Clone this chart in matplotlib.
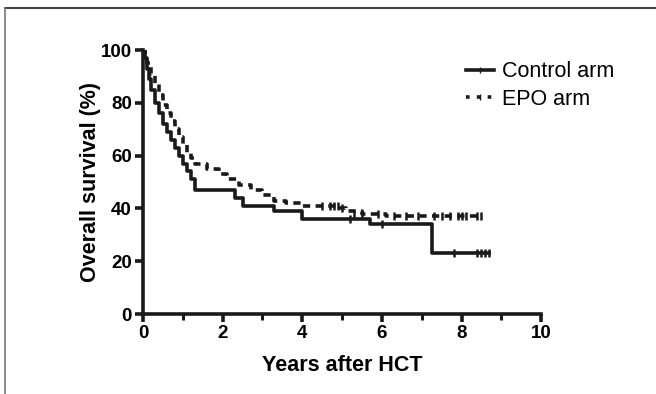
import numpy as np
import matplotlib.pyplot as plt
from matplotlib.lines import Line2D

plt.rcParams['font.family'] = ['Liberation Sans', 'DejaVu Sans']
plt.rcParams['font.weight'] = 'bold'

# Kaplan-Meier step points (years, % surviving)
control_t = [0, 0.05, 0.1, 0.15, 0.2, 0.3, 0.4, 0.5, 0.6, 0.7, 0.8, 0.9, 1.0, 1.1, 1.2, 1.3,
             2.2, 2.3, 2.5, 3.1, 3.3, 3.7, 4.0, 5.5, 5.7, 7.2, 7.25, 8.7]
control_s = [100, 97, 93, 89, 85, 80, 76, 72, 69, 66, 63, 60, 57, 54, 51, 47,
             47, 44, 41, 41, 39, 39, 36, 36, 34, 34, 23, 23]
control_cens_t = [5.2, 6.0, 7.8, 8.4, 8.5, 8.6, 8.7]
control_cens_s = [36, 34, 23, 23, 23, 23, 23]

epo_t = [0, 0.05, 0.1, 0.2, 0.3, 0.4, 0.5, 0.6, 0.7, 0.8, 0.9, 1.0, 1.1, 1.2, 1.3, 1.6,
         1.9, 2.1, 2.4, 2.7, 3.0, 3.3, 3.6, 4.0, 4.5, 4.9, 5.1, 5.5, 5.8, 6.1, 8.5]
epo_s = [100, 98, 95, 91, 87, 83, 79, 76, 73, 70, 67, 64, 61, 59, 57, 55,
         53, 51, 49, 47, 45, 43, 42, 41, 41, 40, 39, 38, 38, 37, 37]
epo_cens_t = [4.5, 4.7, 4.8, 4.9, 5.0, 5.3, 5.5, 5.9, 6.3, 6.6, 6.9, 7.3, 7.5, 7.7, 7.9, 8.0, 8.1, 8.4, 8.5]
epo_cens_s = [41, 41, 41, 41, 40, 38, 38, 38, 37, 37, 37, 37, 37, 37, 37, 37, 37, 37, 37]

fig = plt.figure(figsize=(6.56, 3.94), dpi=100)
ax = fig.add_axes([0.218, 0.203, 0.607, 0.670])

ax.step(control_t, control_s, where='post', color='#1a1a1a', lw=2.6)
ax.plot(control_cens_t, control_cens_s, ls='none', marker='|', ms=6, mew=1.8, color='#1a1a1a')
ax.step(epo_t, epo_s, where='post', color='#1a1a1a', lw=2.6, ls=(0, (2, 1.5)))
ax.plot(epo_cens_t, epo_cens_s, ls='none', marker='|', ms=6, mew=1.8, color='#1a1a1a')

ax.set_xlim(0, 10)
ax.set_ylim(0, 100)
ax.set_xticks([0, 2, 4, 6, 8, 10])
ax.set_xticks([1, 3, 5, 7, 9], minor=True)
ax.set_yticks([0, 20, 40, 60, 80, 100])
for s in ['top', 'right']:
    ax.spines[s].set_visible(False)
for s in ['left', 'bottom']:
    ax.spines[s].set_linewidth(2.6)
    ax.spines[s].set_color('#1a1a1a')
ax.tick_params(which='major', length=6, width=2.6, labelsize=13.5, color='#1a1a1a', pad=2)
ax.tick_params(which='minor', length=4, width=2.2, color='#1a1a1a')
ax.set_xlabel('Years after HCT', fontsize=15.5, fontweight='bold', labelpad=9)
ax.set_ylabel('Overall survival (%)', fontsize=15.5, fontweight='bold', labelpad=0)

handles = [Line2D([], [], color='#1a1a1a', lw=2.6, marker='|', ms=5),
           Line2D([], [], color='#1a1a1a', lw=2.6, ls=(0, (1, 2)), marker='|', ms=5)]
leg = ax.legend(handles, ['Control arm', 'EPO arm'], loc='upper right', bbox_to_anchor=(1.232, 1.03),
                frameon=False, prop={'weight': 'normal', 'size': 15.5}, handlelength=1.3,
                handletextpad=0.35, labelspacing=0.3)

# scanned page border
fig.add_artist(Line2D([0.008, 1.0], [0.98, 0.98], color='#444444', lw=1.5))
fig.add_artist(Line2D([0.008, 0.008], [0.0, 0.98], color='#777777', lw=1.2))

fig.savefig('out.png', dpi=100)
